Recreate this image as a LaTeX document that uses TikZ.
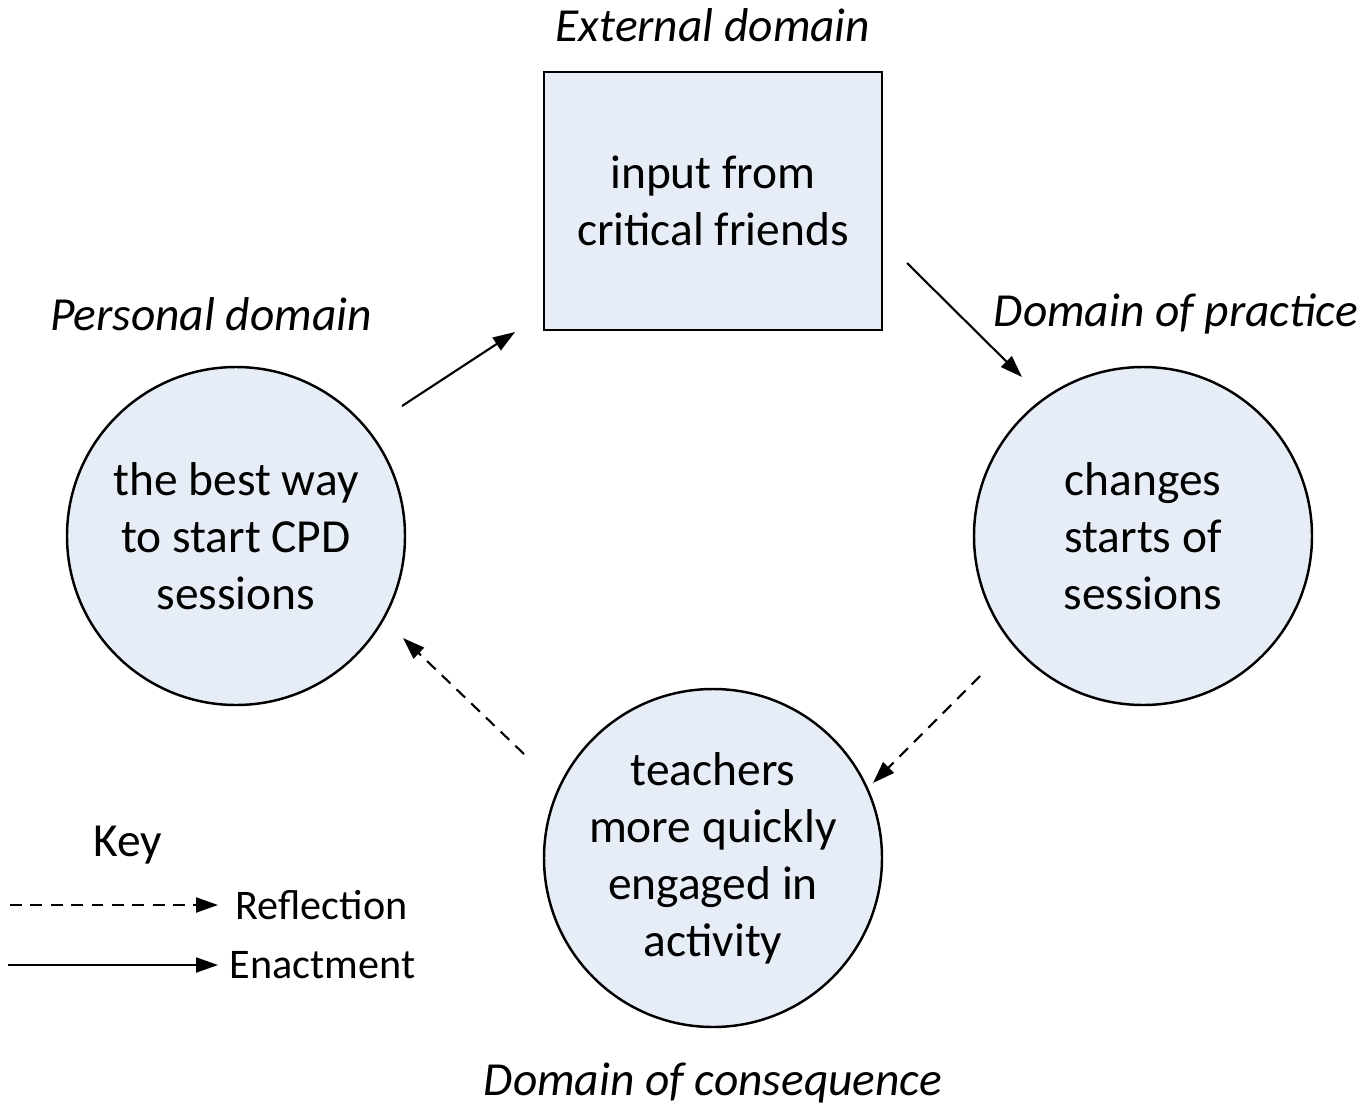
\documentclass[tikz,border=0pt]{standalone}
\usepackage{fontspec}
\setmainfont{Carlito}
\usetikzlibrary{arrows.meta}

\definecolor{domfill}{RGB}{230,237,247}

\begin{document}
\begin{tikzpicture}[
	font=\fontsize{13.5}{16.2}\selectfont,
	dom/.style={draw, line width=0.7pt, fill=domfill, align=center},
	circ/.style={dom, circle, minimum size=3.38cm, inner sep=0pt},
	domlabel/.style={font=\fontsize{13.5}{16.2}\selectfont\itshape},
	keylabel/.style={anchor=west, inner sep=0pt, font=\fontsize{12}{14.4}\selectfont},
	enact/.style={line width=0.6pt, -{Triangle[length=0.22cm, width=0.15cm]}},
	reflect/.style={enact, dash pattern=on 3.4pt off 2.4pt}
	]

	\useasboundingbox (0,0) rectangle (13.65,11.07);

	% domains
	\node[dom, minimum width=3.38cm, minimum height=2.58cm] (ext) at (7.13,9.06) {input from\\critical friends};
	\node[circ] (pers) at (2.36,5.71) {the best way\\to start CPD\\sessions};
	\node[circ] (prac) at (11.43,5.71) {changes\\starts of\\sessions};
	\node[circ] (cons) at (7.13,2.49) {teachers\\more quickly\\engaged in\\activity};

	\node[domlabel] (extlab) at (7.13,10.82) {External domain};
	\node[domlabel] (perslab) at (2.11,7.93) {Personal domain};
	\node[domlabel] (praclab) at (11.76,7.93) {Domain of practice};
	\node[domlabel] (conslab) at (7.13,0.24) {Domain of consequence};

	% arrow ends
	\coordinate (pe1) at (4.02,7.01);
	\coordinate (pe2) at (5.15,7.75);
	\coordinate (ep1) at (9.07,8.44);
	\coordinate (ep2) at (10.22,7.30);
	\coordinate (pc1) at (9.80,4.31);
	\coordinate (pc2) at (8.73,3.24);
	\coordinate (cp1) at (5.24,3.53);
	\coordinate (cp2) at (4.03,4.69);

	\draw[enact] (pe1) -- (pe2);
	\draw[enact] (ep1) -- (ep2);
	\draw[reflect] (pc1) -- (pc2);
	\draw[reflect] (cp1) -- (cp2);

	% key
	\node (key) at (1.28,2.62) {Key};
	\node[keylabel] (refl) at (2.35,2.02) {Reflection};
	\node[keylabel] (enac) at (2.29,1.42) {Enactment};
	\coordinate (k1) at (0.10,2.02);
	\coordinate (k2) at (0.08,1.42);
	\draw[reflect] (k1) -- ([xshift=-0.17cm]refl.west);
	\draw[enact] (k2) -- ([xshift=-0.11cm]enac.west);

\end{tikzpicture}
\end{document}
